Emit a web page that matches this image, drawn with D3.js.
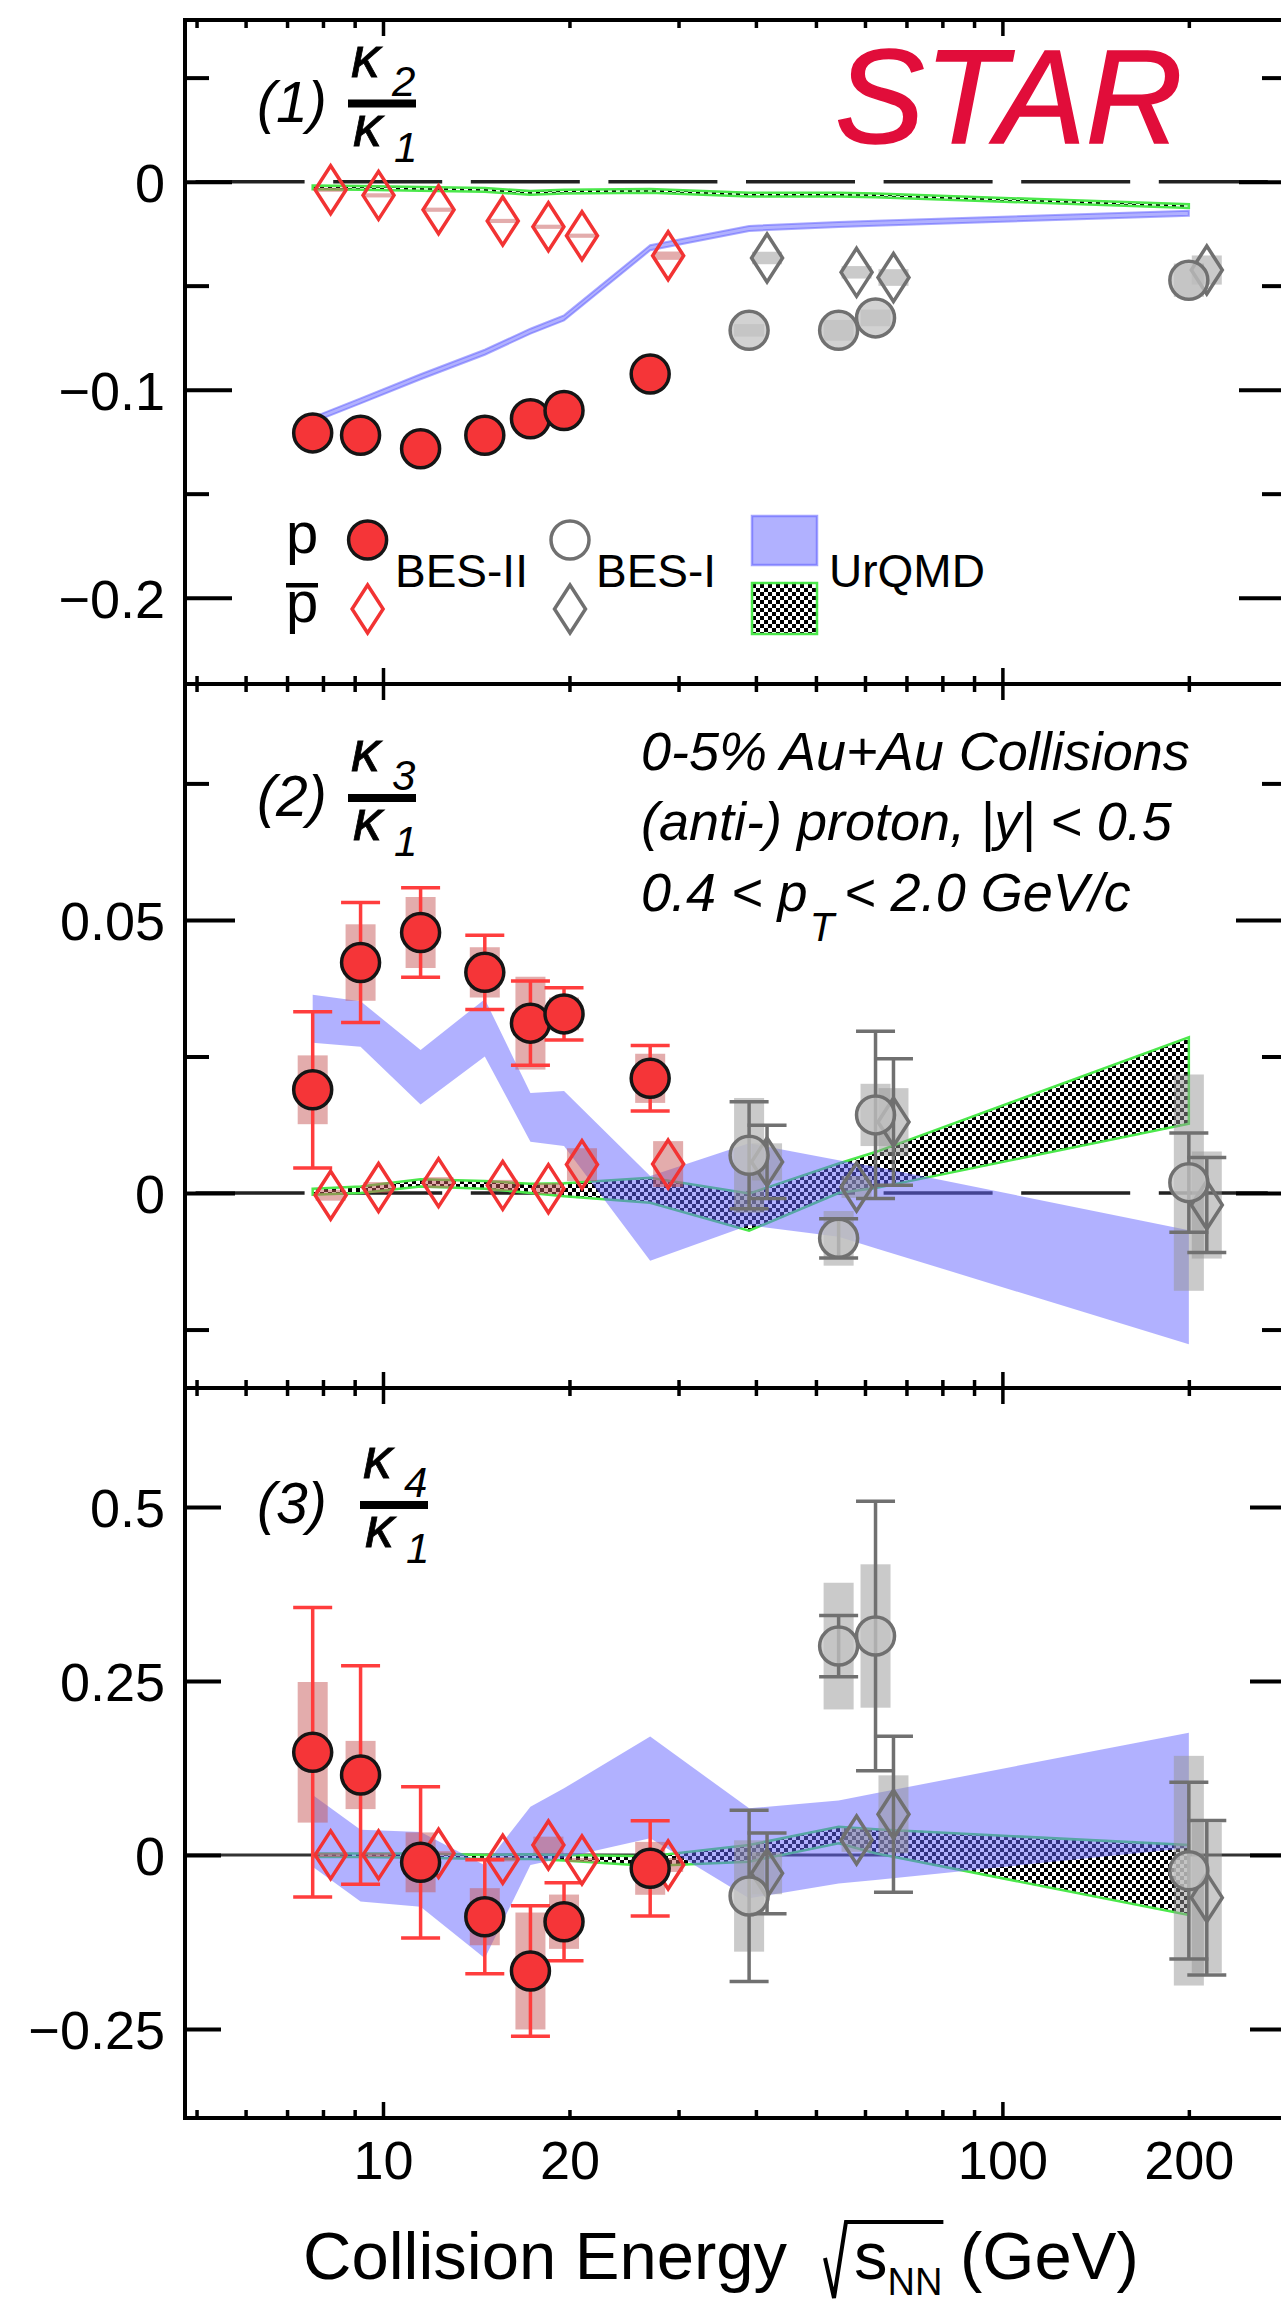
<!DOCTYPE html>
<html>
<head>
<meta charset="utf-8">
<script src="https://cdn.jsdelivr.net/npm/d3@7"></script>
<style>
  body { margin: 0; background: #fff; }
  svg { display: block; font-family: "Liberation Sans", Arial, sans-serif; }
</style>
</head>
<body>
<svg id="chart" width="1281" height="2305"></svg>
<script>
// collision energies (GeV)
const energyBES2 = [7.7, 9.2, 11.5, 14.6, 17.3, 19.6, 27];
const energyBES1 = [39, 54.4, 62.4, 200];
const energyModel = [7.7, 9.2, 11.5, 14.6, 17.3, 19.6, 27, 39, 54.4, 62.4, 200];
const PBAR_SHIFT = 1.069; // antiproton points drawn slightly to the right

const xMajorTicks = [10, 100];
const xMinorTicks = [5, 6, 7, 8, 9, 20, 30, 40, 50, 60, 70, 80, 90, 200];
const xTickLabels = [10, 20, 100, 200];

// ---- panel 1 : kappa2 / kappa1
const k21ProtonBES2 = [-0.1208, -0.1219, -0.1284, -0.1219, -0.114, -0.110, -0.0925];
const k21ProtonBES2Sys = [0.001, 0.001, 0.001, 0.001, 0.001, 0.001, 0.001];
const k21PbarBES2 = [-0.0039, -0.0066, -0.0135, -0.0189, -0.0217, -0.026, -0.0356];
const k21PbarBES2Sys = [0.001, 0.001, 0.001, 0.001, 0.001, 0.001, 0.002];
const k21ProtonBES1 = [-0.0715, -0.0715, -0.0655, -0.0474];
const k21ProtonBES1Sys = [0.003, 0.005, 0.004, 0.008];
const k21PbarBES1 = [-0.0367, -0.0436, -0.0461, -0.0425];
const k21PbarBES1Sys = [0.003, 0.003, 0.004, 0.007];
const k21UrqmdProtonHi = [-0.1133, -0.1042, -0.0926, -0.0808, -0.0707, -0.0643, -0.0306, -0.0213, -0.0194, -0.0188, -0.0140];
const k21UrqmdProtonLo = [-0.1157, -0.1066, -0.0950, -0.0832, -0.0731, -0.0667, -0.0330, -0.0237, -0.0218, -0.0212, -0.0164];
const k21UrqmdPbarHi = [-0.0019, -0.0021, -0.0026, -0.0031, -0.0045, -0.0039, -0.0036, -0.0054, -0.0054, -0.0057, -0.0109];
const k21UrqmdPbarLo = [-0.0037, -0.0039, -0.0044, -0.0049, -0.0063, -0.0057, -0.0054, -0.0072, -0.0072, -0.0075, -0.0127];

// ---- panel 2 : kappa3 / kappa1
const k31ProtonBES2 = [0.0189, 0.0422, 0.0477, 0.0404, 0.0311, 0.0328, 0.0210];
const k31ProtonBES2Stat = [0.0143, 0.011, 0.0082, 0.0068, 0.0077, 0.0048, 0.006];
const k31ProtonBES2Sys = [0.0063, 0.007, 0.0065, 0.0046, 0.0085, 0.003, 0.0045];
const k31PbarBES2 = [-0.0004, 0.001, 0.0019, 0.0014, 0.0008, 0.0052, 0.0053];
const k31PbarBES2Sys = [0.001, 0.001, 0.001, 0.001, 0.001, 0.003, 0.0042];
const k31ProtonBES1 = [0.0069, -0.0083, 0.0143, 0.0019];
const k31ProtonBES1Stat = [0.0098, 0.0036, 0.0153, 0.0091];
const k31ProtonBES1Sys = [0.0105, 0.005, 0.0057, 0.0198];
const k31PbarBES1 = [0.0057, 0.0011, 0.0130, -0.0022];
const k31PbarBES1Stat = [0.0067, null, 0.0116, 0.0087];
const k31PbarBES1Sys = [0.0034, 0.002, 0.0062, 0.0098];
const k31UrqmdProtonHi = [0.0363, 0.0351, 0.0262, 0.0355, 0.0183, 0.0187, 0.0031, 0.0091, 0.006, 0.0048, -0.0068];
const k31UrqmdProtonLo = [0.0275, 0.0268, 0.0162, 0.025, 0.0094, 0.0086, -0.0124, -0.0059, -0.008, -0.0101, -0.0277];
const k31UrqmdPbarHi = [0.0008, 0.0012, 0.0025, 0.0022, 0.0017, 0.0018, 0.0028, -0.0001, 0.0054, 0.0075, 0.0285];
const k31UrqmdPbarLo = [-0.0003, 0.0, 0.0012, 0.0008, 0.0, -0.0006, -0.0018, -0.0069, 0.0, 0.0009, 0.0127];

// ---- panel 3 : kappa4 / kappa1
const k41ProtonBES2 = [0.1474, 0.1148, -0.0107, -0.0888, -0.1668, -0.096, -0.0193];
const k41ProtonBES2Stat = [0.208, 0.157, 0.1086, 0.082, 0.0937, 0.056, 0.0685];
const k41ProtonBES2Sys = [0.101, 0.049, 0.043, 0.041, 0.084, 0.039, 0.038];
const k41PbarBES2 = [0.0, 0.0, 0.0023, -0.0063, 0.0142, -0.0073, -0.0145];
const k41PbarBES2Sys = [0.003, 0.003, 0.003, 0.003, 0.012, 0.003, 0.01];
const k41ProtonBES1 = [-0.059, 0.300, 0.3145, -0.0227];
const k41ProtonBES1Stat = [0.123, 0.044, 0.1935, 0.127];
const k41ProtonBES1Sys = [0.08, 0.091, 0.103, 0.165];
const k41PbarBES1 = [-0.0265, 0.0214, 0.0583, -0.0614];
const k41PbarBES1Stat = [0.058, null, 0.112, 0.111];
const k41PbarBES1Sys = [0.03, 0.017, 0.056, 0.108];
const k41UrqmdProtonHi = [0.086, 0.036, 0.033, -0.015, 0.069, 0.0957, 0.170, 0.067, 0.078, 0.0885, 0.1756];
const k41UrqmdProtonLo = [-0.017, -0.067, -0.0744, -0.1486, -0.0145, -0.004, 0.024, -0.0624, -0.041, -0.036, 0.010];
const k41UrqmdPbarHi = [0.002, 0.002, 0.002, 0.0, 0.001, 0.0, -0.002, 0.0142, 0.0405, 0.0367, 0.0142];
const k41UrqmdPbarLo = [-0.003, -0.003, -0.004, -0.006, -0.006, -0.008, -0.016, -0.0097, 0.0167, 0.0023, -0.0864];

// y axis ticks
const p1Major = [0, -0.1, -0.2], p1MajorLabels = ["0", "\u22120.1", "\u22120.2"], p1Minor = [0.05, -0.05, -0.15];
const p2Major = [0, 0.05], p2MajorLabels = ["0", "0.05"], p2Minor = [0.075, 0.025, -0.025];
const p3Major = [-0.25, 0, 0.25, 0.5], p3MajorLabels = ["\u22120.25", "0", "0.25", "0.5"], p3Minor = [];

// ---------------------------------------------------------------------------
const LEFT = 185, RIGHT = 1286;
const RED = "#f23333", RED_FILL = "#f53538", RED_BAR = "#ff3d3d", RED_SYS = "rgba(200,90,90,0.5)";
const GRAY = "#707070", GRAY_SYS = "rgba(150,150,150,0.5)";
const BLUE_BAND = "rgba(100,100,255,0.5)";
const GREEN = "#4be84b";

const svg = d3.select("#chart");
const defs = svg.append("defs");
const pat = defs.append("pattern").attr("id", "checker")
    .attr("width", 8).attr("height", 8).attr("patternUnits", "userSpaceOnUse");
pat.append("rect").attr("width", 8).attr("height", 8).attr("fill", "#fff");
pat.append("rect").attr("width", 4).attr("height", 4).attr("fill", "#000");
pat.append("rect").attr("x", 4).attr("y", 4).attr("width", 4).attr("height", 4).attr("fill", "#000");

const x = d3.scaleLog().domain([4.79, 287]).range([LEFT, RIGHT]);

const diamondPath = "M0,-24L15.5,0L0,24L-15.5,0Z";

function band(hi, lo) {
    return energyModel.map((e, i) => ({e: e, hi: hi[i], lo: lo[i]}));
}
function series(energies, values, stat, sys, shift) {
    return energies.map((e, i) => ({
        e: e * shift, v: values[i],
        stat: stat ? stat[i] : null,
        sys: sys ? sys[i] : null
    }));
}

const panels = [
    {
        box: [20, 684], yDomain: [-0.2415, 0.0777], tickLen: 47, dashed: true,
        major: p1Major, majorLabels: p1MajorLabels, minor: p1Minor,
        protonBand: band(k21UrqmdProtonHi, k21UrqmdProtonLo),
        pbarBand: band(k21UrqmdPbarHi, k21UrqmdPbarLo),
        pBES2: series(energyBES2, k21ProtonBES2, null, k21ProtonBES2Sys, 1),
        pbBES2: series(energyBES2, k21PbarBES2, null, k21PbarBES2Sys, PBAR_SHIFT),
        pBES1: series(energyBES1, k21ProtonBES1, null, k21ProtonBES1Sys, 1),
        pbBES1: series(energyBES1, k21PbarBES1, null, k21PbarBES1Sys, PBAR_SHIFT),
        label: {num: "2", bar: 103.5, dx: 0, n: "(1)"}
    },
    {
        box: [684, 1388], yDomain: [-0.0357, 0.0932], tickLen: 50, dashed: true,
        major: p2Major, majorLabels: p2MajorLabels, minor: p2Minor,
        protonBand: band(k31UrqmdProtonHi, k31UrqmdProtonLo),
        pbarBand: band(k31UrqmdPbarHi, k31UrqmdPbarLo),
        pBES2: series(energyBES2, k31ProtonBES2, k31ProtonBES2Stat, k31ProtonBES2Sys, 1),
        pbBES2: series(energyBES2, k31PbarBES2, null, k31PbarBES2Sys, PBAR_SHIFT),
        pBES1: series(energyBES1, k31ProtonBES1, k31ProtonBES1Stat, k31ProtonBES1Sys, 1),
        pbBES1: series(energyBES1, k31PbarBES1, k31PbarBES1Stat, k31PbarBES1Sys, PBAR_SHIFT),
        label: {num: "3", bar: 798, dx: 0, n: "(2)"}
    },
    {
        box: [1388, 2118], yDomain: [-0.378, 0.6708], tickLen: 36, dashed: false,
        major: p3Major, majorLabels: p3MajorLabels, minor: p3Minor,
        protonBand: band(k41UrqmdProtonHi, k41UrqmdProtonLo),
        pbarBand: band(k41UrqmdPbarHi, k41UrqmdPbarLo),
        pBES2: series(energyBES2, k41ProtonBES2, k41ProtonBES2Stat, k41ProtonBES2Sys, 1),
        pbBES2: series(energyBES2, k41PbarBES2, null, k41PbarBES2Sys, PBAR_SHIFT),
        pBES1: series(energyBES1, k41ProtonBES1, k41ProtonBES1Stat, k41ProtonBES1Sys, 1),
        pbBES1: series(energyBES1, k41PbarBES1, k41PbarBES1Stat, k41PbarBES1Sys, PBAR_SHIFT),
        label: {num: "4", bar: 1505, dx: 12, n: "(3)"}
    }
];

function styleTicks(g, width) {
    g.select(".domain").remove();
    g.selectAll(".tick line").attr("stroke", "#000").attr("stroke-width", width);
}

function drawSys(g, y, data, fill) {
    g.selectAll(null).data(data.filter(d => d.sys)).join("rect")
        .attr("x", d => x(d.e) - 15).attr("width", 30)
        .attr("y", d => y(d.v + d.sys))
        .attr("height", d => y(d.v - d.sys) - y(d.v + d.sys))
        .attr("fill", fill);
}

function drawStat(g, y, data, color) {
    const bars = g.selectAll(null).data(data.filter(d => d.stat)).join("g")
        .attr("stroke", color).attr("stroke-width", 3.5).attr("fill", "none");
    bars.append("line")
        .attr("x1", d => x(d.e)).attr("x2", d => x(d.e))
        .attr("y1", d => y(d.v + d.stat)).attr("y2", d => y(d.v - d.stat));
    bars.append("line")
        .attr("x1", d => x(d.e) - 19.5).attr("x2", d => x(d.e) + 19.5)
        .attr("y1", d => y(d.v + d.stat)).attr("y2", d => y(d.v + d.stat));
    bars.append("line")
        .attr("x1", d => x(d.e) - 19.5).attr("x2", d => x(d.e) + 19.5)
        .attr("y1", d => y(d.v - d.stat)).attr("y2", d => y(d.v - d.stat));
}

function drawCircles(g, y, data, fill, stroke) {
    g.selectAll(null).data(data).join("circle")
        .attr("cx", d => x(d.e)).attr("cy", d => y(d.v)).attr("r", 19)
        .attr("fill", fill).attr("stroke", stroke).attr("stroke-width", 3.5);
}

function drawDiamonds(g, y, data, stroke) {
    g.selectAll(null).data(data).join("path")
        .attr("d", diamondPath)
        .attr("transform", d => `translate(${x(d.e)},${y(d.v)})`)
        .attr("fill", "none").attr("stroke", stroke).attr("stroke-width", 3.5);
}

panels.forEach((p, i) => {
    const [top, bottom] = p.box;
    const y = d3.scaleLinear().domain(p.yDomain).range([bottom, top]);
    const g = svg.append("g");

    const clipId = "clip" + i;
    defs.append("clipPath").attr("id", clipId)
        .append("rect").attr("x", LEFT).attr("y", top).attr("width", RIGHT - LEFT).attr("height", bottom - top);
    const plot = g.append("g").attr("clip-path", `url(#${clipId})`);

    // zero line
    const zero = plot.append("line")
        .attr("x1", LEFT).attr("x2", RIGHT).attr("y1", y(0)).attr("y2", y(0));
    if (p.dashed) {
        zero.attr("stroke", "#222").attr("stroke-width", 3.5)
            .attr("stroke-dasharray", "109 28.6").attr("stroke-dashoffset", 127);
    } else {
        zero.attr("stroke", "#333").attr("stroke-width", 3);
    }

    // UrQMD bands
    const area = d3.area().x(d => x(d.e)).y0(d => y(d.lo)).y1(d => y(d.hi));
    plot.append("path").datum(p.pbarBand).attr("d", area)
        .attr("fill", "url(#checker)").attr("stroke", GREEN).attr("stroke-width", 2.5);
    const pb = plot.append("path").datum(p.protonBand).attr("d", area).attr("fill", BLUE_BAND);
    if (i === 0) pb.attr("stroke", "rgba(100,100,255,0.55)").attr("stroke-width", 2);

    // systematic boxes
    drawSys(plot, y, p.pBES2, RED_SYS);
    drawSys(plot, y, p.pbBES2, RED_SYS);
    drawSys(plot, y, p.pBES1, GRAY_SYS);
    drawSys(plot, y, p.pbBES1, GRAY_SYS);

    // statistical error bars
    drawStat(plot, y, p.pBES2, RED_BAR);
    drawStat(plot, y, p.pbBES2, RED_BAR);
    drawStat(plot, y, p.pBES1, GRAY);
    drawStat(plot, y, p.pbBES1, GRAY);

    // markers
    drawDiamonds(plot, y, p.pbBES2, RED);
    drawDiamonds(plot, y, p.pbBES1, GRAY);
    drawCircles(plot, y, p.pBES1, "rgba(195,195,195,0.75)", GRAY);
    drawCircles(plot, y, p.pBES2, RED_FILL, "#151515");

    // y axes
    const yl = g.append("g").attr("transform", `translate(${LEFT},0)`)
        .call(d3.axisLeft(y).tickValues(p.major).tickSizeInner(-p.tickLen).tickSizeOuter(0)
            .tickPadding(20).tickFormat((d, k) => p.majorLabels[k]));
    styleTicks(yl, 4);
    yl.selectAll("text").attr("font-size", 54).attr("font-family", "Liberation Sans, Arial, sans-serif")
        .attr("fill", "#000").attr("dy", "0.36em");
    styleTicks(g.append("g").attr("transform", `translate(${LEFT},0)`)
        .call(d3.axisLeft(y).tickValues(p.minor).tickSizeInner(-24).tickSizeOuter(0).tickFormat("")), 4);
    styleTicks(g.append("g").attr("transform", `translate(${RIGHT},0)`)
        .call(d3.axisRight(y).tickValues(p.major).tickSizeInner(-p.tickLen).tickSizeOuter(0).tickFormat("")), 4);
    styleTicks(g.append("g").attr("transform", `translate(${RIGHT},0)`)
        .call(d3.axisRight(y).tickValues(p.minor).tickSizeInner(-24).tickSizeOuter(0).tickFormat("")), 4);

    // x ticks on top and bottom edges
    [[top, d3.axisTop], [bottom, d3.axisBottom]].forEach(([yy, ax]) => {
        styleTicks(g.append("g").attr("transform", `translate(0,${yy})`)
            .call(ax(x).tickValues(xMajorTicks).tickSizeInner(-16).tickSizeOuter(0).tickFormat("")), 3.5);
        styleTicks(g.append("g").attr("transform", `translate(0,${yy})`)
            .call(ax(x).tickValues(xMinorTicks).tickSizeInner(-8).tickSizeOuter(0).tickFormat("")), 3.5);
    });

    // frame
    g.append("rect").attr("x", LEFT).attr("y", top).attr("width", RIGHT - LEFT).attr("height", bottom - top)
        .attr("fill", "none").attr("stroke", "#000").attr("stroke-width", 4);

    // panel label (n) kappa_k / kappa_1
    const L = p.label;
    const lab = g.append("g").attr("font-style", "italic").attr("fill", "#000");
    lab.append("text").attr("x", 257).attr("y", L.bar + 18).attr("font-size", 57).text(L.n);
    lab.append("rect").attr("x", 348 + L.dx).attr("y", L.bar - 4).attr("width", 68).attr("height", 8);
    lab.append("text").attr("x", 351 + L.dx).attr("y", L.bar - 27).attr("font-size", 58)
        .attr("stroke", "#000").attr("stroke-width", 0.8).text("\u03ba");
    lab.append("text").attr("x", 392 + L.dx).attr("y", L.bar - 8).attr("font-size", 42).text(L.num);
    lab.append("text").attr("x", 353 + L.dx).attr("y", L.bar + 42).attr("font-size", 58)
        .attr("stroke", "#000").attr("stroke-width", 0.8).text("\u03ba");
    lab.append("text").attr("x", 394 + L.dx).attr("y", L.bar + 58).attr("font-size", 42).text("1");
});

// x tick labels under the last panel
const xl = svg.append("g").attr("transform", "translate(0,2118)")
    .call(d3.axisBottom(x).tickValues(xTickLabels).tickSize(0).tickPadding(23).tickFormat(d3.format("d")));
xl.select(".domain").remove();
xl.selectAll("text").attr("font-size", 54).attr("font-family", "Liberation Sans, Arial, sans-serif").attr("fill", "#000");

// x axis title with radical sign
const title = svg.append("text").attr("x", 303).attr("y", 2279).attr("font-size", 67).attr("fill", "#000");
title.append("tspan").text("Collision Energy");
title.append("tspan").attr("x", 854).text("s");
title.append("tspan").attr("font-size", 38).attr("dy", 16).text("NN");
title.append("tspan").attr("x", 960).attr("dy", -16).text("(GeV)");
const nBox = title.node().getExtentOfChar(18);
svg.append("path")
    .attr("d", `M825,2258L834,2298L846,2222L${nBox.x + nBox.width + 1},2222`)
    .attr("fill", "none").attr("stroke", "#000").attr("stroke-width", 4).attr("stroke-linejoin", "miter");

// STAR logo
svg.append("text").attr("x", 835).attr("y", 143).attr("font-size", 134).attr("font-style", "italic")
    .attr("fill", "#e10d3a").attr("stroke", "#e10d3a").attr("stroke-width", 1.5).text("STAR");

// panel 2 annotation
const note = svg.append("g").attr("font-style", "italic").attr("font-size", 54).attr("fill", "#000");
note.append("text").attr("x", 641).attr("y", 770).text("0-5% Au+Au Collisions");
note.append("text").attr("x", 641).attr("y", 840).text("(anti-) proton, |y| < 0.5");
const n3 = note.append("text").attr("x", 641).attr("y", 911);
n3.append("tspan").text("0.4 < p");
n3.append("tspan").attr("font-size", 40).attr("dy", 30).attr("dx", 2).text("T");
n3.append("tspan").attr("dy", -30).attr("dx", 10).text("< 2.0 GeV/c");

// legend in panel 1
const leg = svg.append("g").attr("fill", "#000");
leg.append("text").attr("x", 286).attr("y", 553).attr("font-size", 58).text("p");
leg.append("text").attr("x", 286).attr("y", 622).attr("font-size", 58).text("p");
leg.append("rect").attr("x", 286).attr("y", 583).attr("width", 32).attr("height", 4.5);
leg.append("circle").attr("cx", 367.6).attr("cy", 540).attr("r", 19)
    .attr("fill", RED_FILL).attr("stroke", "#151515").attr("stroke-width", 3.5);
leg.append("path").attr("d", diamondPath).attr("transform", "translate(367.6,609)")
    .attr("fill", "none").attr("stroke", RED).attr("stroke-width", 3.5);
leg.append("circle").attr("cx", 570).attr("cy", 540).attr("r", 19)
    .attr("fill", "#fff").attr("stroke", GRAY).attr("stroke-width", 3.5);
leg.append("path").attr("d", diamondPath).attr("transform", "translate(570,609)")
    .attr("fill", "none").attr("stroke", GRAY).attr("stroke-width", 3.5);
leg.append("rect").attr("x", 752).attr("y", 516).attr("width", 65).attr("height", 49)
    .attr("fill", BLUE_BAND).attr("stroke", "rgba(100,100,255,0.6)").attr("stroke-width", 2.5);
leg.append("rect").attr("x", 752).attr("y", 583).attr("width", 65).attr("height", 51)
    .attr("fill", "url(#checker)").attr("stroke", GREEN).attr("stroke-width", 2.5);
leg.append("text").attr("x", 395).attr("y", 587).attr("font-size", 46).text("BES-II");
leg.append("text").attr("x", 596).attr("y", 587).attr("font-size", 46).text("BES-I");
leg.append("text").attr("x", 829).attr("y", 587).attr("font-size", 46).text("UrQMD");
</script>
</body>
</html>
